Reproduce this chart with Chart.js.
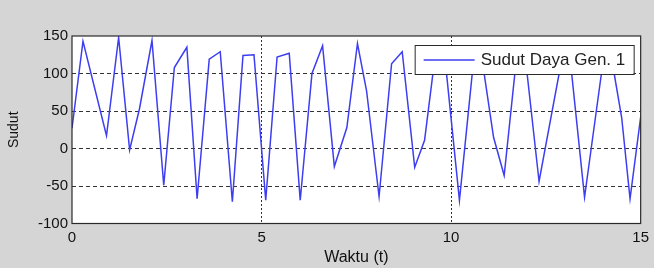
<!DOCTYPE html>
<html>
<head>
<meta charset="utf-8">
<script src="https://cdn.jsdelivr.net/npm/chart.js@4"></script>
<style>
  html, body { margin: 0; padding: 0; background: #d5d5d5; }
  canvas { display: block; }
</style>
</head>
<body>
<canvas id="sudutChart" width="654" height="268"></canvas>
<script>
// waktu (t) and rotor angle
const times = [0, 0.29, 0.91, 1.23, 1.52, 1.78, 2.11, 2.42, 2.70, 3.03, 3.30, 3.62, 3.91,
  4.23, 4.51, 4.80, 5.11, 5.41, 5.73, 6.02, 6.33, 6.61, 6.92, 7.25, 7.53, 7.77, 8.10,
  8.43, 8.71, 9.04, 9.30, 9.60, 9.81, 10.22, 10.61, 10.78, 11.12, 11.40, 11.74, 11.93,
  12.32, 12.96, 13.11, 13.52, 14.03, 14.19, 14.50, 14.72, 15.0];
const angles = [27, 143, 17, 148, -2, 53, 144, -49, 108, 135, -67, 119, 129,
  -71, 124, 125, -69, 122, 127, -69, 100, 137, -24, 28, 140, 77, -64,
  113, 129, -25, 11, 132, 134, -69, 126, 131, 15, -36, 128, 134,
  -44, 130, 134, -65, 124, 133, 41, -67, 42];
const seriesLabel = "Sudut Daya Gen. 1";
const xTicks = [0, 5, 10, 15];
const yTicks = [-100, -50, 0, 50, 100, 150];

const points = times.map((t, i) => ({ x: t, y: angles[i] }));

// gray figure, white axes, box frame
const figureBg = {
  id: "figureBg",
  beforeDraw(chart) {
    const { ctx, chartArea: a } = chart;
    ctx.save();
    ctx.fillStyle = "#d5d5d5";
    ctx.fillRect(0, 0, chart.width, chart.height);
    ctx.fillStyle = "#ffffff";
    ctx.fillRect(a.left, a.top, a.right - a.left, a.bottom - a.top);
    ctx.restore();
  },
  afterDraw(chart) {
    const { ctx, chartArea: a } = chart;
    ctx.save();
    ctx.strokeStyle = "#2a2a2a";
    ctx.lineWidth = 1.2;
    ctx.strokeRect(a.left, a.top, a.right - a.left, a.bottom - a.top);
    ctx.restore();
  },
};

// matlab-like legend box inside the axes
const boxLegend = {
  id: "boxLegend",
  afterDatasetsDraw(chart) {
    const { ctx, chartArea: a } = chart;
    const ds = chart.data.datasets[0];
    const right = a.right - 7;
    const top = a.top + 9;
    const w = 219, h = 29;
    const left = right - w;
    ctx.save();
    ctx.fillStyle = "#ffffff";
    ctx.fillRect(left, top, w, h);
    ctx.strokeStyle = "#2a2a2a";
    ctx.lineWidth = 1;
    ctx.strokeRect(left + 0.5, top + 0.5, w, h);
    ctx.strokeStyle = ds.borderColor;
    ctx.lineWidth = 1.5;
    ctx.beginPath();
    ctx.moveTo(left + 9, top + 15);
    ctx.lineTo(left + 60, top + 15);
    ctx.stroke();
    ctx.fillStyle = "#222";
    ctx.font = "17px 'Liberation Sans', Arial, sans-serif";
    ctx.textBaseline = "middle";
    ctx.fillText(ds.label, left + 66, top + 15.5);
    ctx.restore();
  },
};

const ctx = document.getElementById("sudutChart");

new Chart(ctx, {
  type: "line",
  data: {
    datasets: [
      {
        label: seriesLabel,
        data: points,
        borderColor: "#3d3df2",
        borderWidth: 1.5,
        pointRadius: 0,
        tension: 0,
        fill: false,
      },
    ],
  },
  options: {
    responsive: false,
    animation: false,
    devicePixelRatio: 1,
    layout: { padding: { left: 0, top: 36, right: 10, bottom: 0 } },
    plugins: {
      legend: { display: false },
      tooltip: { enabled: false },
    },
    scales: {
      x: {
        type: "linear",
        min: 0,
        max: 15,
        afterBuildTicks(scale) {
          scale.ticks = xTicks.map((v) => ({ value: v }));
        },
        afterFit(scale) {
          scale.height = 44.5;
        },
        grid: {
          drawTicks: false,
          lineWidth: 1,
          color: (c) =>
            c.tick && (c.tick.value === 0 || c.tick.value === 15) ? "transparent" : "#333",
        },
        border: { display: false, dash: [2, 2] },
        ticks: {
          padding: 5,
          color: "#111",
          font: { family: "'Liberation Sans', Arial, sans-serif", size: 15 },
          maxRotation: 0,
        },
        title: {
          display: true,
          text: "Waktu (t)",
          color: "#111",
          font: { family: "'Liberation Sans', Arial, sans-serif", size: 16 },
          padding: { top: 0, bottom: 1 },
        },
      },
      y: {
        type: "linear",
        min: -100,
        max: 150,
        afterBuildTicks(scale) {
          scale.ticks = yTicks.map((v) => ({ value: v }));
        },
        afterFit(scale) {
          scale.width = 72;
        },
        grid: {
          drawTicks: false,
          lineWidth: 1,
          color: (c) =>
            c.tick && (c.tick.value === -100 || c.tick.value === 150) ? "transparent" : "#333",
        },
        border: { display: false, dash: [4, 3] },
        ticks: {
          padding: 4,
          color: "#111",
          font: { family: "'Liberation Sans', Arial, sans-serif", size: 15 },
        },
        title: {
          display: true,
          text: "Sudut",
          color: "#111",
          font: { family: "'Liberation Sans', Arial, sans-serif", size: 14 },
          padding: { top: 6, bottom: 0 },
        },
      },
    },
  },
  plugins: [figureBg, boxLegend],
});
</script>
</body>
</html>
